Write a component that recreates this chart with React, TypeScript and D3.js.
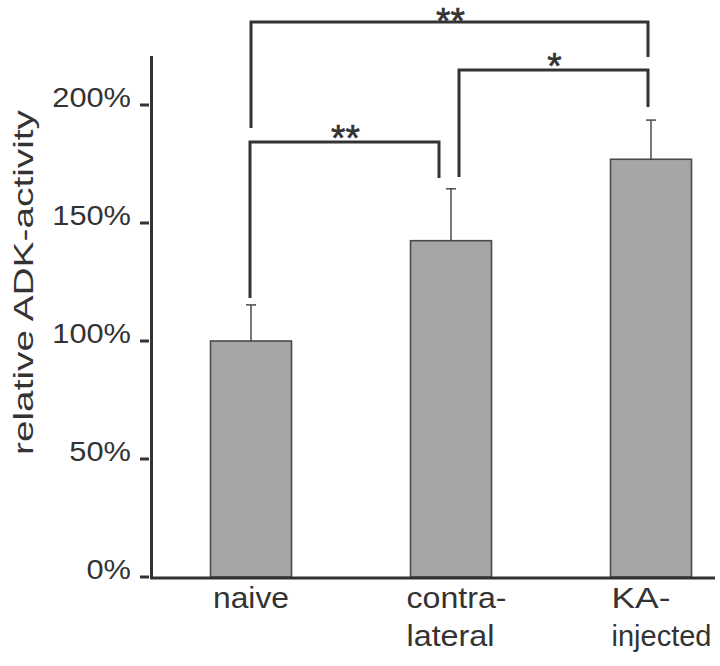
import React from "react";
import * as d3 from "d3";

const categories = ["naive", "contra", "KA"];
const categoryLines = [["naive"], ["contra-", "lateral"], ["KA-", "injected"]];
const meanValues = [100, 142.5, 177];
const errorValues = [15.3, 22, 16.6];
const yTicks = [0, 50, 100, 150, 200];
const yTickLabels = ["0%", "50%", "100%", "150%", "200%"];

// significance brackets (values in % units)
const bracketFrom = ["naive", "contra", "naive"];
const bracketTo = ["KA", "KA", "contra"];
const bracketLabels = ["**", "*", "**"];
const bracketLevel = [235.2, 214.8, 184.3];
const bracketLegFrom = [190.3, 169.5, 118.2];
const bracketLegTo = [220.3, 199.2, 169.1];

const W = 720;
const H = 666;
const FONT = "'Liberation Sans', Arial, sans-serif";
const INK = "#333333";

// rendered widths of category label lines (styling)
const labelWidths: Record<string, number> = {
  naive: 76,
  "contra-": 100,
  lateral: 88,
  "KA-": 59,
  injected: 100,
};

export default function App() {
  const xs = d3.scalePoint<string>().domain(categories).range([251, 651]);
  const barW = 81;
  const y = d3.scaleLinear().domain([0, 200]).range([577, 105]);

  const axisX = 151.5;
  const axisTop = y(220.8);

  const bracketOffsets: [number, number][] = [
    [0, -3],
    [8, -3],
    [-1, -12],
  ];
  const starSize = 37;

  return (
    <svg
      width={W}
      height={H}
      style={{ position: "absolute", left: 0, top: 0, background: "#fff" }}
      fontFamily={FONT}
    >
      <rect x={0} y={0} width={W} height={H} fill="#ffffff" />
      {/* bars */}
      {categories.map((c, i) => {
        const cx = xs(c)!;
        const top = y(meanValues[i]);
        const errTop = y(meanValues[i] + errorValues[i]);
        return (
          <g key={c}>
            <line x1={cx} x2={cx} y1={top} y2={errTop} stroke="#555" strokeWidth={1.6} />
            <line x1={cx - 5} x2={cx + 5} y1={errTop} y2={errTop} stroke="#555" strokeWidth={1.6} />
            <rect
              x={cx - barW / 2}
              y={top}
              width={barW}
              height={y(0) - top}
              fill="#a6a6a6"
              stroke="#4a4a4a"
              strokeWidth={1.6}
            />
          </g>
        );
      })}
      {/* axes */}
      <line x1={axisX} x2={axisX} y1={axisTop} y2={y(0) + 1.5} stroke={INK} strokeWidth={3} />
      <line x1={axisX - 1.5} x2={715} y1={y(0) + 1} y2={y(0) + 1} stroke={INK} strokeWidth={3} />
      {yTicks.map((t, i) => (
        <g key={t}>
          <line x1={140} x2={149} y1={y(t)} y2={y(t)} stroke={INK} strokeWidth={3} />
          <text
            transform={`translate(131,${y(t) + 2}) scale(1.1,1)`}
            textAnchor="end"
            fontSize={28}
            fill={INK}
          >
            {yTickLabels[i]}
          </text>
        </g>
      ))}
      {/* y label */}
      <text
        transform={`translate(33,${282.5}) rotate(-90)`}
        textAnchor="middle"
        fontSize={28}
        fill={INK}
        textLength={345}
        lengthAdjust="spacingAndGlyphs"
      >
        relative ADK-activity
      </text>
      {/* category labels */}
      {categories.map((c, i) => {
        const lines = categoryLines[i];
        const cx = xs(c)!;
        const single = lines.length === 1;
        const startX = i === 1 ? cx - barW / 2 - 4 : cx - barW / 2 + 1;
        return (
          <g key={c}>
            {lines.map((l, j) => (
              <text
                key={j}
                x={single ? cx - labelWidths[l] / 2 : startX}
                y={608 + j * 38}
                textAnchor="start"
                fontSize={29}
                fill={INK}
                textLength={labelWidths[l]}
                lengthAdjust="spacingAndGlyphs"
              >
                {l}
              </text>
            ))}
          </g>
        );
      })}
      {/* significance brackets */}
      {bracketLabels.map((lab, i) => {
        const x1 = xs(bracketFrom[i])! + bracketOffsets[i][0];
        const x2 = xs(bracketTo[i])! + bracketOffsets[i][1];
        const yl = y(bracketLevel[i]);
        const path = `M${x1},${y(bracketLegFrom[i])} L${x1},${yl} L${x2},${yl} L${x2},${y(bracketLegTo[i])}`;
        const ty = Math.max(yl + 9, starSize * 0.92);
        return (
          <g key={i}>
            <path d={path} fill="none" stroke={INK} strokeWidth={3} />
            <text
              x={(x1 + x2) / 2 + 1}
              y={ty}
              textAnchor="middle"
              fontSize={starSize}
              fill={INK}
              stroke={INK}
              strokeWidth={0.6}
            >
              {lab}
            </text>
          </g>
        );
      })}
    </svg>
  );
}
